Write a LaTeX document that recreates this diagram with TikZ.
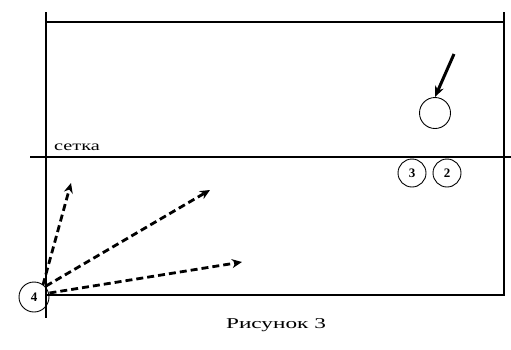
\documentclass[tikz,border=0pt]{standalone}
\usepackage{fontspec}
\setmainfont{Liberation Serif}
\newfontfamily\widefont[FakeStretch=1.45]{Liberation Serif}
\newfontfamily\capfont[FakeStretch=1.55]{Liberation Serif}
\usetikzlibrary{arrows.meta}
\begin{document}
\begin{tikzpicture}[x=1pt,y=-1pt,
  court/.style={line width=1.6pt},
  player/.style={circle,draw,line width=0.9pt,minimum size=28pt,inner sep=0pt,font=\fontsize{13}{13}\selectfont\bfseries},
  shot/.style={line width=2.8pt,dash pattern=on 7pt off 4pt,-{Stealth[length=10pt,width=9pt]}},
  throw/.style={line width=3pt,-{Stealth[length=11pt,width=9pt]}}]
\useasboundingbox (0,0) rectangle (511,349);
% court lines
\draw[court] (46,12) -- (46,318);
\draw[court] (504,12) -- (504,296);
\draw[court] (46,22) -- (504,22);
\draw[court] (30,157) -- (511,157);
\draw[court] (46,295) -- (504,295);
\node[anchor=south west,inner sep=0pt,font=\widefont\fontsize{14}{14}\selectfont] (net) at (54,151) {сетка};
% players
\node[player,minimum size=31pt] (ball) at (435,113) {};
\node[player] (p3) at (412,173) {3};
\node[player] (p2) at (447,173) {2};
\node[player,minimum size=30pt] (p4) at (34,297) {4};
\coordinate (s) at (454,54);
\draw[throw] (s) -- (ball.north);
% targets
\coordinate (t1) at (71,183);
\coordinate (t2) at (210,190);
\coordinate (t3) at (242,262);
\draw[shot] (p4.north east) ++(-2,-1) -- (t1);
\draw[shot] (p4.north east) ++(1,0) -- (t2);
\draw[shot] (p4.east) ++(0,-4) -- (t3);
\node[font=\capfont\fontsize{15}{15}\selectfont] (cap) at (276,325) {Рисунок 3};
\end{tikzpicture}
\end{document}
